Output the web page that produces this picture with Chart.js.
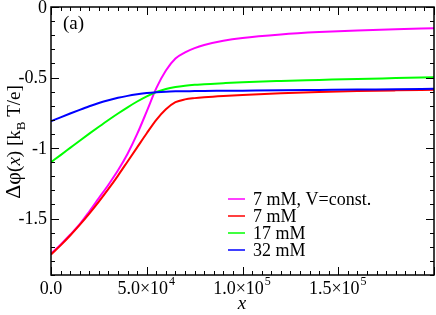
<!DOCTYPE html>
<html>
<head>
<meta charset="utf-8">
<script src="https://cdn.jsdelivr.net/npm/chart.js@4.4.0/dist/chart.umd.min.js"></script>
<style>
  html, body { margin: 0; padding: 0; background: #fff; }
  #wrap { width: 436px; height: 315px; }
</style>
</head>
<body>
<div id="wrap"><canvas id="chart"></canvas></div>
<script>
// valores (x en unidades de la figura)
const xValues = [0, 5000, 10000, 15000, 20000, 25000, 30000, 35000, 40000, 45000, 50000, 55000,
                 60000, 65000, 70000, 75000, 80000, 90000, 100000, 120000, 140000, 160000, 180000, 200000];
const phiConstV = [-1.75, -1.685, -1.615, -1.54, -1.45, -1.355, -1.26, -1.158, -1.04, -0.90, -0.74, -0.575,
                   -0.45, -0.365, -0.322, -0.292, -0.27, -0.24, -0.22, -0.195, -0.178, -0.166, -0.157, -0.15];
const phi7 = [-1.755, -1.69, -1.62, -1.545, -1.465, -1.38, -1.29, -1.195, -1.095, -0.995, -0.895, -0.80,
              -0.725, -0.675, -0.655, -0.646, -0.640, -0.631, -0.624, -0.612, -0.603, -0.596, -0.591, -0.587];
const phi17 = [-1.10, -1.05, -0.999, -0.948, -0.898, -0.849, -0.801, -0.755, -0.711, -0.670, -0.633, -0.603,
               -0.581, -0.567, -0.558, -0.552, -0.548, -0.540, -0.533, -0.524, -0.517, -0.510, -0.504, -0.498];
const phi32 = [-0.81, -0.782, -0.755, -0.729, -0.704, -0.681, -0.661, -0.644, -0.630, -0.619, -0.610, -0.604,
               -0.600, -0.598, -0.597, -0.596, -0.595, -0.594, -0.593, -0.591, -0.588, -0.585, -0.583, -0.58];

const seriesLabels = ["7 mM, V=const.", "7 mM", "17 mM", "32 mM"];
const seriesColors = ["#ff00ff", "#ff0000", "#00ff00", "#0000ff"];
const seriesData = [phiConstV, phi7, phi17, phi32];

const xTicks = [0, 50000, 100000, 150000];
const xTickLabels = [["0.0", ""], ["5.0×10", "4"], ["1.0×10", "5"], ["1.5×10", "5"]];
const yTicks = [0, -0.5, -1, -1.5];
const yTickLabels = ["0", "-0.5", "-1", "-1.5"];

const serif = "'Liberation Serif', 'DejaVu Serif', serif";

// dibuja marco, marcas hacia dentro, etiquetas y leyenda
const decorPlugin = {
    id: "decor",
    afterDraw(chart) {
        const c = chart.ctx;
        const a = chart.chartArea;
        const xs = chart.scales.x, ys = chart.scales.y;
        c.save();
        c.strokeStyle = "#000";
        c.lineWidth = 1.5;
        c.strokeRect(a.left, a.top, a.right - a.left, a.bottom - a.top);

        c.lineWidth = 1;
        c.beginPath();
        for (let v = 0; v <= 200000; v += 5000) {
            const px = Math.round(xs.getPixelForValue(v)) + 0.5;
            const len = v % 50000 === 0 ? 8 : 4;
            c.moveTo(px, a.bottom); c.lineTo(px, a.bottom - len);
            c.moveTo(px, a.top); c.lineTo(px, a.top + len);
        }
        for (let i = 0; i <= 19; i++) {
            const v = -i / 10;
            const py = Math.round(ys.getPixelForValue(v)) + 0.5;
            const len = i % 5 === 0 ? 8 : 4;
            c.moveTo(a.left, py); c.lineTo(a.left + len, py);
            c.moveTo(a.right, py); c.lineTo(a.right - len, py);
        }
        c.stroke();

        c.fillStyle = "#000";
        // etiquetas eje y
        c.font = "18px " + serif;
        c.textAlign = "right";
        c.textBaseline = "middle";
        yTicks.forEach((v, i) => {
            c.fillText(yTickLabels[i], a.left - 4, ys.getPixelForValue(v) + 1);
        });
        // etiquetas eje x con exponente
        c.textBaseline = "alphabetic";
        c.textAlign = "left";
        xTicks.forEach((v, i) => {
            const [base, exp] = xTickLabels[i];
            c.font = "18px " + serif;
            const wb = c.measureText(base).width;
            const px = xs.getPixelForValue(v);
            const x0 = i === 0 ? px - wb / 2 : px - wb / 2 - 4;
            c.fillText(base, x0, a.bottom + 19);
            c.font = "12px " + serif;
            c.fillText(exp, x0 + wb + 1, a.bottom + 10);
        });
        // titulo eje x
        c.font = "italic 19px " + serif;
        c.textAlign = "center";
        c.fillText("x", 242, 309);

        // titulo eje y (rotado)
        const parts = [
            { t: "Δφ", f: "22px " + serif, dy: 0 },
            { t: "(", f: "19px " + serif, dy: 0 },
            { t: "x", f: "italic 19px " + serif, dy: 0 },
            { t: ") [k", f: "19px " + serif, dy: 0 },
            { t: "B", f: "13px " + serif, dy: 5 },
            { t: " T/e]", f: "19px " + serif, dy: 0 }
        ];
        let total = 0;
        parts.forEach(p => { c.font = p.f; p.w = c.measureText(p.t).width; total += p.w; });
        c.translate(20, 142);
        c.rotate(-Math.PI / 2);
        c.textAlign = "left";
        let cx = -total / 2;
        parts.forEach(p => {
            c.font = p.f;
            c.fillText(p.t, cx, p.dy);
            cx += p.w;
        });
        c.setTransform(1, 0, 0, 1, 0, 0);

        // (a)
        c.font = "19px " + serif;
        c.textAlign = "left";
        c.textBaseline = "middle";
        c.fillText("(a)", 63, 24);

        // leyenda
        seriesLabels.forEach((lab, i) => {
            const y = 199 + i * 17;
            c.strokeStyle = seriesColors[i];
            c.lineWidth = 1.5;
            c.beginPath();
            c.moveTo(228, y); c.lineTo(245, y);
            c.stroke();
            c.fillStyle = "#000";
            c.font = "18px " + serif;
            c.fillText(lab, 253, y + 1);
        });
        c.restore();
    }
};

const ctx = document.getElementById("chart").getContext("2d");
const chart = new Chart(ctx, {
    type: "scatter",
    data: {
        datasets: seriesData.map((ys, i) => ({
            label: seriesLabels[i],
            data: xValues.map((x, j) => ({ x: x, y: ys[j] })),
            showLine: true,
            borderColor: seriesColors[i],
            borderWidth: 2,
            pointRadius: 0,
            cubicInterpolationMode: "monotone",
            fill: false
        })).reverse()
    },
    options: {
        responsive: true,
        maintainAspectRatio: false,
        animation: false,
        layout: { padding: { left: 51, right: 2, top: 7, bottom: 40 } },
        scales: {
            x: { type: "linear", min: 0, max: 200000, display: false },
            y: { type: "linear", min: -1.9, max: 0, display: false }
        },
        plugins: {
            legend: { display: false },
            tooltip: { enabled: false }
        }
    },
    plugins: [decorPlugin]
});
</script>
</body>
</html>
